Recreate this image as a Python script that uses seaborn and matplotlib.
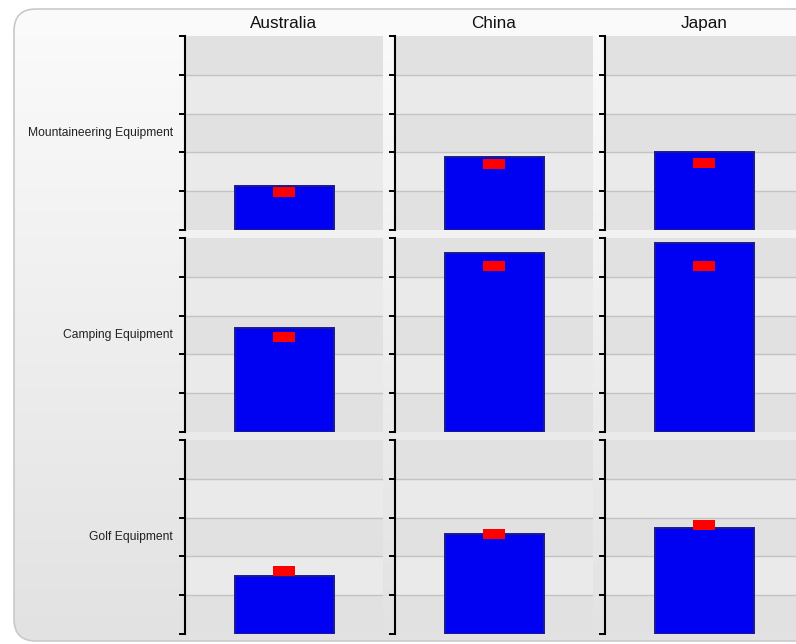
import numpy as np
import pandas as pd
import matplotlib
matplotlib.use("Agg")
import matplotlib.pyplot as plt
from matplotlib.patches import FancyBboxPatch
import seaborn as sns

countries = ["Australia", "China", "Japan"]
products = ["Mountaineering Equipment", "Camping Equipment", "Golf Equipment"]
actual_mountaineering = [1.13, 1.88, 2.01]
actual_camping = [2.69, 4.61, 4.88]
actual_golf = [1.50, 2.58, 2.73]
target_mountaineering = [0.99, 1.69, 1.73]
target_camping = [2.44, 4.29, 4.29]
target_golf = [1.62, 2.57, 2.81]
y_ticks = [0, 1, 2, 3, 4, 5]

actuals = [actual_mountaineering, actual_camping, actual_golf]
targets = [target_mountaineering, target_camping, target_golf]
rows = []
for p, a_list, t_list in zip(products, actuals, targets):
    for c, a, t in zip(countries, a_list, t_list):
        rows.append({"product": p, "country": c, "actual": a, "target": t})
df = pd.DataFrame(rows)

sns.set_theme(style="white")
plt.rcParams["font.family"] = ["Liberation Sans", "DejaVu Sans"]

W, H = 796, 644
fig = plt.figure(figsize=(W / 100, H / 100), dpi=100)
fig.patch.set_facecolor("white")

# rounded gradient background
bg = fig.add_axes([0, 0, 1, 1], zorder=-10)
bg.set_xlim(0, W)
bg.set_ylim(H, 0)
bg.axis("off")
grad = np.linspace(0, 1, 256).reshape(-1, 1)
im = bg.imshow(grad, cmap=matplotlib.colors.LinearSegmentedColormap.from_list("g", ["#fbfbfb", "#e2e2e2"]),
               extent=[14, W + 30, 641, 9], aspect="auto", zorder=0)
box = FancyBboxPatch((14, 9), W + 10, 632, boxstyle="round,pad=0,rounding_size=22",
                     facecolor="none", edgecolor="#c9c9c9", linewidth=1.2, zorder=2)
bg.add_patch(box)
im.set_clip_path(box)

col_left = [185, 395, 605]
row_top = [36, 238, 440]
pw, ph = 198, 194

band_dark = "#e1e1e1"
band_light = "#eaeaea"

for ri, prod in enumerate(products):
    for ci, country in enumerate(countries):
        ax = fig.add_axes([col_left[ci] / W, 1 - (row_top[ri] + ph) / H, pw / W, ph / H])
        sub = df[(df["product"] == prod) & (df["country"] == country)]
        ax.set_facecolor(band_light)
        for k in range(len(y_ticks) - 1):
            ax.axhspan(y_ticks[k], y_ticks[k + 1], color=band_dark if k % 2 == 0 else band_light,
                       zorder=0, lw=0)
        for yv in y_ticks[1:-1]:
            ax.axhline(yv, color="#c3c3c3", lw=1.0, zorder=0.5)
        sns.barplot(data=sub, x="country", y="actual", ax=ax, color="#0000f2", width=0.5,
                    edgecolor="#1a1a90", linewidth=1.4, saturation=1, zorder=2)
        xs = np.arange(len(sub))
        ax.scatter(xs, sub["target"].values,
                   marker=[(-1, -0.5), (1, -0.5), (1, 0.5), (-1, 0.5)],
                   s=250, color="#ff0000", linewidths=0, zorder=3)
        ax.set_xlim(-0.5, 0.5)
        ax.set_ylim(y_ticks[0], y_ticks[-1])
        ax.set_yticks(y_ticks)
        ax.set_yticklabels([])
        ax.set_xticks([])
        ax.set_xlabel("")
        for s in ["top", "right", "bottom"]:
            ax.spines[s].set_visible(False)
        ax.spines["left"].set_color("black")
        ax.spines["left"].set_linewidth(1.5)
        ax.tick_params(axis="y", direction="out", length=4, width=1.4, color="black", left=True)
        if ci == 0:
            ax.set_ylabel(prod, rotation=0, ha="right", va="center", fontsize=8.7, color="#222222")
            ax.yaxis.set_label_coords(-0.06, 0.5)
        else:
            ax.set_ylabel("")
        if ri == 0:
            ax.set_title(country, fontsize=12.3, pad=6, color="#111111")

fig.savefig("out.png", dpi=100)
